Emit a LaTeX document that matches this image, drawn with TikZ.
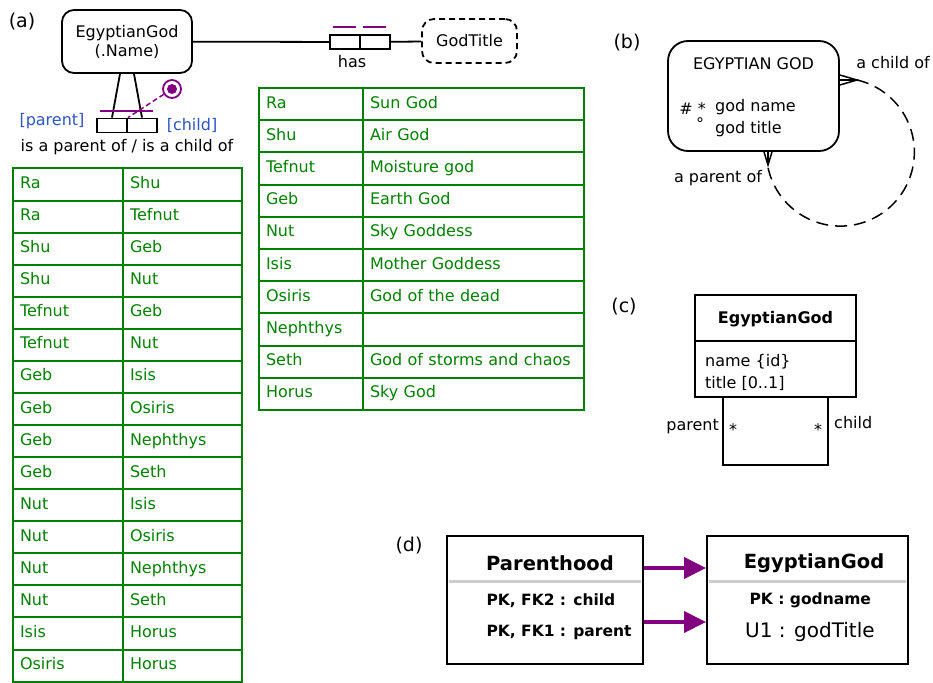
\documentclass[tikz,border=0pt]{standalone}
\usepackage{fontspec}
\setmainfont{DejaVu Sans}
\usepackage{tikz}
\usetikzlibrary{arrows.meta}
\definecolor{tblgreen}{RGB}{0,128,0}
\definecolor{ormpurple}{RGB}{128,0,128}
\definecolor{roleblue}{RGB}{45,85,195}
\definecolor{hdrgray}{RGB}{205,205,205}
\pgfdeclarelayer{edgelayer}
\pgfdeclarelayer{nodelayer}
\pgfsetlayers{edgelayer,nodelayer,main}
\tikzstyle{every node}=[font=\fontsize{16pt}{19pt}\selectfont]
\tikzstyle{none}=[inner sep=0pt]
\tikzstyle{panel}=[inner sep=0pt,font=\fontsize{19pt}{22pt}\selectfont]
\tikzstyle{objtype}=[rectangle,rounded corners=12pt,draw=black,line width=1.8pt,align=center,minimum width=130pt,minimum height=63pt]
\tikzstyle{valtype}=[objtype,dash pattern=on 6pt off 4pt,minimum width=95pt,minimum height=44pt]
\tikzstyle{role}=[rectangle,draw=black,line width=1.8pt,minimum width=30pt,minimum height=14pt,inner sep=0pt]
\tikzstyle{constr}=[circle,draw=ormpurple,line width=1.8pt,minimum size=18pt,inner sep=0pt]
\tikzstyle{constrdot}=[circle,fill=ormpurple,minimum size=10pt,inner sep=0pt]
\tikzstyle{roleline}=[-,line width=1.8pt]
\tikzstyle{uniq}=[-,draw=ormpurple,line width=2.5pt]
\tikzstyle{extdash}=[-,draw=ormpurple,line width=1.5pt,dash pattern=on 5pt off 3pt]
\tikzstyle{cell}=[rectangle,draw=tblgreen,line width=2pt,text=tblgreen,inner xsep=7pt,inner ysep=0pt,align=left,text height=11.5pt,text depth=3.5pt]
\tikzstyle{lcolA}=[cell,text width=96pt,minimum height=32.07pt]
\tikzstyle{lcolB}=[cell,text width=105pt,minimum height=32.07pt]
\tikzstyle{rcolA}=[cell,text width=90pt,minimum height=32.2pt]
\tikzstyle{rcolB}=[cell,text width=207pt,minimum height=32.2pt]
\tikzstyle{erentity}=[rectangle,rounded corners=20pt,draw=black,line width=1.8pt,minimum width=171pt,minimum height=110pt]
\tikzstyle{crow}=[-,line width=1.5pt]
\tikzstyle{reldash}=[-,line width=1.5pt,dash pattern=on 12pt off 7pt]
\tikzstyle{umlclass}=[rectangle,draw=black,line width=2pt,minimum width=161pt,minimum height=102pt]
\tikzstyle{assoc}=[-,line width=1.8pt]
\tikzstyle{reltable}=[rectangle,draw=black,line width=2pt,minimum height=128pt]
\tikzstyle{hdrline}=[-,draw=hdrgray,line width=3pt]
\tikzstyle{fkarrow}=[-{Triangle[length=22pt,width=21pt]},draw=ormpurple,fill=ormpurple,line width=4pt]
\tikzstyle{hdrtext}=[font=\bfseries\fontsize{19.5pt}{22pt}\selectfont]
\tikzstyle{keytext}=[font=\bfseries\fontsize{15.5pt}{18pt}\selectfont,anchor=west]

\begin{document}
\begin{tikzpicture}[x=1pt,y=-1pt]
	\useasboundingbox (0,0) rectangle (933,682);
	\begin{pgfonlayer}{nodelayer}
		% (a) ORM
		\node [style=panel] (0) at (22, 22) {(a)};
		\node [style=objtype] (1) at (127, 41.5) {EgyptianGod\\(.Name)};
		\node [style=valtype] (3) at (469.5, 41) {GodTitle};
		\node [style=role] (5) at (345, 42) {};
		\node [style=role] (6) at (375, 42) {};
		\node [style=none] (4) at (352, 62) {has};
		\node [style=role] (7) at (112, 125.5) {};
		\node [style=role] (8) at (142, 125.5) {};
		\node [style=constr] (9) at (172, 89) {};
		\node [style=constrdot] (10) at (172, 89) {};
		\node [style=none, text=roleblue] (11) at (52, 121) {[parent]};
		\node [style=none, text=roleblue] (12) at (192, 125) {[child]};
		\node [style=none] (13) at (127, 147) {is a parent of / is a child of};
		% fact table
		\node [style=lcolA] (100) at (68, 184.5) {Ra};
		\node [style=lcolB] (101) at (182.5, 184.5) {Shu};
		\node [style=lcolA] (102) at (68, 216.6) {Ra};
		\node [style=lcolB] (103) at (182.5, 216.6) {Tefnut};
		\node [style=lcolA] (104) at (68, 248.7) {Shu};
		\node [style=lcolB] (105) at (182.5, 248.7) {Geb};
		\node [style=lcolA] (106) at (68, 280.7) {Shu};
		\node [style=lcolB] (107) at (182.5, 280.7) {Nut};
		\node [style=lcolA] (108) at (68, 312.8) {Tefnut};
		\node [style=lcolB] (109) at (182.5, 312.8) {Geb};
		\node [style=lcolA] (110) at (68, 344.9) {Tefnut};
		\node [style=lcolB] (111) at (182.5, 344.9) {Nut};
		\node [style=lcolA] (112) at (68, 376.9) {Geb};
		\node [style=lcolB] (113) at (182.5, 376.9) {Isis};
		\node [style=lcolA] (114) at (68, 409.0) {Geb};
		\node [style=lcolB] (115) at (182.5, 409.0) {Osiris};
		\node [style=lcolA] (116) at (68, 441.1) {Geb};
		\node [style=lcolB] (117) at (182.5, 441.1) {Nephthys};
		\node [style=lcolA] (118) at (68, 473.2) {Geb};
		\node [style=lcolB] (119) at (182.5, 473.2) {Seth};
		\node [style=lcolA] (120) at (68, 505.2) {Nut};
		\node [style=lcolB] (121) at (182.5, 505.2) {Isis};
		\node [style=lcolA] (122) at (68, 537.3) {Nut};
		\node [style=lcolB] (123) at (182.5, 537.3) {Osiris};
		\node [style=lcolA] (124) at (68, 569.4) {Nut};
		\node [style=lcolB] (125) at (182.5, 569.4) {Nephthys};
		\node [style=lcolA] (126) at (68, 601.4) {Nut};
		\node [style=lcolB] (127) at (182.5, 601.4) {Seth};
		\node [style=lcolA] (128) at (68, 633.5) {Isis};
		\node [style=lcolB] (129) at (182.5, 633.5) {Horus};
		\node [style=lcolA] (130) at (68, 665.6) {Osiris};
		\node [style=lcolB] (131) at (182.5, 665.6) {Horus};
		% title table
		\node [style=rcolA] (200) at (311, 104.1) {Ra};
		\node [style=rcolB] (201) at (473.5, 104.1) {Sun God};
		\node [style=rcolA] (202) at (311, 136.3) {Shu};
		\node [style=rcolB] (203) at (473.5, 136.3) {Air God};
		\node [style=rcolA] (204) at (311, 168.5) {Tefnut};
		\node [style=rcolB] (205) at (473.5, 168.5) {Moisture god};
		\node [style=rcolA] (206) at (311, 200.7) {Geb};
		\node [style=rcolB] (207) at (473.5, 200.7) {Earth God};
		\node [style=rcolA] (208) at (311, 232.9) {Nut};
		\node [style=rcolB] (209) at (473.5, 232.9) {Sky Goddess};
		\node [style=rcolA] (210) at (311, 265.1) {Isis};
		\node [style=rcolB] (211) at (473.5, 265.1) {Mother Goddess};
		\node [style=rcolA] (212) at (311, 297.3) {Osiris};
		\node [style=rcolB] (213) at (473.5, 297.3) {God of the dead};
		\node [style=rcolA] (214) at (311, 329.5) {Nephthys};
		\node [style=rcolB] (215) at (473.5, 329.5) {};
		\node [style=rcolA] (216) at (311, 361.7) {Seth};
		\node [style=rcolB] (217) at (473.5, 361.7) {God of storms and chaos};
		\node [style=rcolA] (218) at (311, 393.9) {Horus};
		\node [style=rcolB] (219) at (473.5, 393.9) {Sky God};
		% (b) ER
		\node [style=panel] (19) at (627, 43) {(b)};
		\node [style=erentity] (20) at (753.5, 96) {};
		\node [style=none] (21) at (753.5, 64) {EGYPTIAN GOD};
		\node [style=none, anchor=east] (25) at (706, 109) {\# *};
		\node [style=none, anchor=west] (26) at (715, 107) {god name};
		\node [style=none] (27) at (700, 124) {°};
		\node [style=none, anchor=west] (28) at (715, 129) {god title};
		\node [style=none] (29) at (893, 63) {a child of};
		\node [style=none] (30) at (718, 178) {a parent of};
		\coordinate (23) at (857, 80);
		\coordinate (24) at (768, 165);
		% (c) UML
		\node [style=panel] (39) at (624, 307) {(c)};
		\node [style=umlclass] (40) at (775.5, 346) {};
		\node [style=none, font=\bfseries\fontsize{16pt}{19pt}\selectfont] (41) at (775.5, 319) {EgyptianGod};
		\node [style=none, anchor=west] (42) at (705, 362) {name \{id\}};
		\node [style=none, anchor=west] (43) at (705, 383) {title [0..1]};
		\node [style=none, anchor=east] (44) at (719, 427) {parent};
		\node [style=none] (45) at (733, 430) {*};
		\node [style=none] (46) at (818, 430) {*};
		\node [style=none, anchor=west] (47) at (834, 423) {child};
		% (d) relational
		\node [style=panel] (49) at (409, 546) {(d)};
		\node [style=reltable, minimum width=196pt] (50) at (545, 600) {};
		\node [style=reltable, minimum width=201pt] (51) at (807.5, 600) {};
		\node [style=hdrtext] (52) at (550, 563) {Parenthood};
		\node [style=hdrtext] (53) at (814, 563) {EgyptianGod};
		\node [style=keytext] (54) at (483, 601) {PK, FK2 : child};
		\node [style=keytext] (55) at (483, 632) {PK, FK1 : parent};
		\node [style=keytext] (56) at (746, 600) {PK : godname};
		\node [style=none, anchor=west, font=\fontsize{20pt}{23pt}\selectfont] (57) at (745, 632) {U1 : godTitle};
		\coordinate (58) at (0, 568);
		\coordinate (59) at (0, 622);
	\end{pgfonlayer}
	\begin{pgfonlayer}{edgelayer}
		\draw [style=roleline] (1) to (5);
		\draw [style=roleline] (6) to (3);
		\draw [style=roleline] ([xshift=-7pt]1.south) to (7.north);
		\draw [style=roleline] ([xshift=7pt]1.south) to (8.north);
		\draw [style=uniq] (333, 27) to (356, 27);
		\draw [style=uniq] (363, 27) to (386, 27);
		\draw [style=uniq] (100, 111) to (153, 111);
		\draw [style=extdash] (9) to (7.north east);
		\draw [style=crow] ([yshift=21pt]20.east) to (23) to ([yshift=11pt]20.east);
		\draw [style=crow] ([yshift=16pt]20.east) to (23);
		\draw [style=crow] ([xshift=10.5pt]20.south) to (24) to ([xshift=18.5pt]20.south);
		\draw [style=crow] ([xshift=14.5pt]20.south) to (24);
		\draw [style=reldash] (23) arc [start angle=77, end angle=-170, radius=74pt];
		\draw [style=assoc, line width=2pt] ([yshift=5pt]40.west) to ([yshift=5pt]40.east);
		\draw [style=assoc] ([xshift=29pt]40.south west) -- ++(0, 67) -| ([xshift=-29pt]40.south east);
		\draw [style=hdrline] ([xshift=3pt, yshift=19pt]50.west) to ([xshift=-3pt, yshift=19pt]50.east);
		\draw [style=hdrline] ([xshift=3pt, yshift=19pt]51.west) to ([xshift=-3pt, yshift=19pt]51.east);
		\draw [style=fkarrow] (50.east |- 58) to (51.west |- 58);
		\draw [style=fkarrow] (50.east |- 59) to (51.west |- 59);
	\end{pgfonlayer}
\end{tikzpicture}
\end{document}
